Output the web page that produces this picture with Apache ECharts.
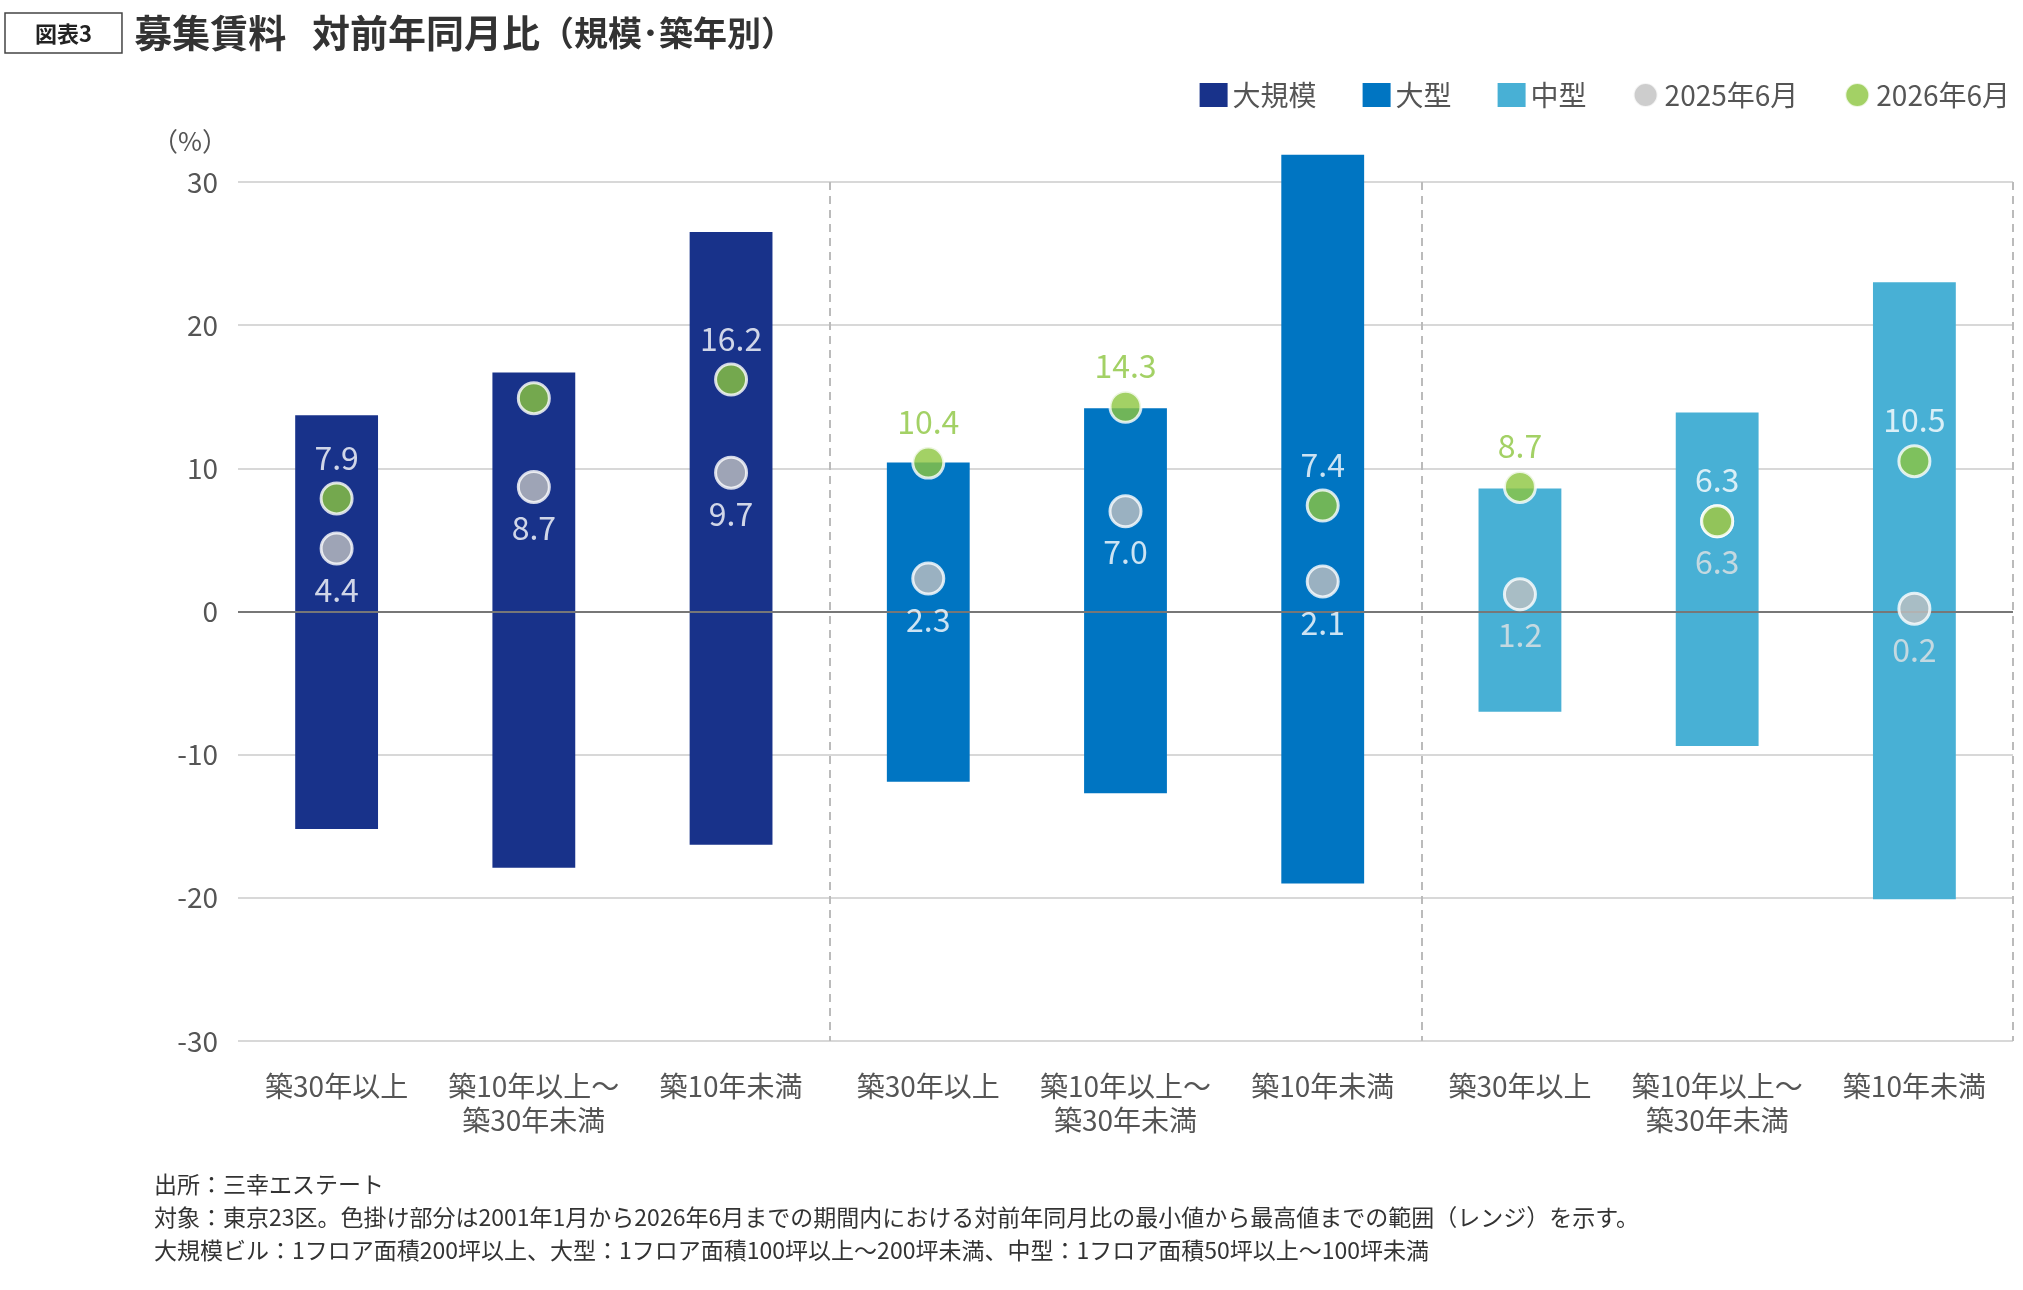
<!DOCTYPE html>
<html><head><meta charset="utf-8">
<script src="https://cdn.jsdelivr.net/npm/echarts@6/dist/echarts.min.js"></script>
<style>html,body{margin:0;padding:0;background:#fff}#c{width:2023px;height:1290px}</style>
</head><body><div id="c"></div>
<script>
const categories = ['築30年以上', '築10年以上～\n築30年未満', '築10年未満', '築30年以上', '築10年以上～\n築30年未満', '築10年未満', '築30年以上', '築10年以上～\n築30年未満', '築10年未満']
const groups = ['大規模', '大型', '中型']
const groupColors = ['#18328a', '#0075c2', '#48b0d5']
const rangeMax = [13.7, 16.7, 26.5, 10.4, 14.2, 31.9, 8.6, 13.9, 23.0]
const rangeMin = [-15.2, -17.9, -16.3, -11.9, -12.7, -19.0, -7.0, -9.4, -20.1]
const v2025 = [4.4, 8.7, 9.7, 2.3, 7.0, 2.1, 1.2, 6.3, 0.2]
const v2026 = [7.9, 14.9, 16.2, 10.4, 14.3, 7.4, 8.7, 6.3, 10.5]
const green = '#8cc63f'
const F = "'Noto Sans CJK JP', 'Noto Sans', sans-serif"

const chart = echarts.init(document.getElementById('c'))

const barSeries = []
groups.forEach((g, gi) => {
  const pick = arr => arr.map((v, i) => (Math.floor(i / 3) === gi ? v : null))
  ;[pick(rangeMax), pick(rangeMin)].forEach(data => {
    barSeries.push({
      name: g, type: 'bar', data, barWidth: '42%', barGap: '-100%', clip: false,
      itemStyle: { color: groupColors[gi] }, silent: true, z: 2,
    })
  })
})

const label2026 = v2026.map((v, i) => ({
  value: v,
  label: { color: v >= rangeMax[i] - 0.5 ? green : '#fff' },
}))
const label2025 = v2025.map((v, i) => ({
  value: v,
  label: { color: i >= 6 ? '#e4e4e4' : '#fff' },
}))

chart.setOption({
  animation: false,
  textStyle: { fontFamily: F },
  title: {
    text: '{b|図表3}   {t|募集賃料   対前年同月比}{s|（規模･築年別）}',
    left: 0, top: 8,
    textStyle: {
      rich: {
        b: { fontSize: 22, color: '#222', borderColor: '#444', borderWidth: 1.5, padding: [10, 30, 8, 30], fontFamily: F },
        t: { fontSize: 38, fontWeight: 'bold', color: '#333', fontFamily: F },
        s: { fontSize: 34, color: '#333', fontFamily: F },
      },
    },
  },
  legend: {
    right: 8, top: 76, itemGap: 46, itemWidth: 28, itemHeight: 24,
    textStyle: { fontSize: 28, color: '#555', fontFamily: F },
    data: [
      { name: '大規模', icon: 'rect' }, { name: '大型', icon: 'rect' }, { name: '中型', icon: 'rect' },
      { name: '2025年6月', icon: 'circle' }, { name: '2026年6月', icon: 'circle' },
    ],
  },
  grid: { left: 238, right: 10, top: 182, bottom: 249 },
  xAxis: {
    type: 'category', data: categories,
    axisLine: { show: false }, axisTick: { show: false },
    axisLabel: { fontSize: 28, color: '#555', margin: 28, lineHeight: 34, interval: 0 },
    splitLine: {
      show: true,
      interval: i => i === 3 || i === 6,
      lineStyle: { color: '#bbb', type: [8, 6], width: 2 },
    },
  },
  yAxis: {
    type: 'value', min: -30, max: 30, interval: 10,
    name: '（%）', nameLocation: 'end', nameGap: 28,
    nameTextStyle: { fontSize: 26, color: '#555', align: 'right', padding: [0, 10, 0, 0] },
    axisLabel: { fontSize: 28, color: '#555', margin: 20 },
    splitLine: { lineStyle: { color: '#d8d8d8', width: 2 } },
    axisLine: { show: false },
  },
  series: [
    ...barSeries,
    {
      type: 'line', silent: true, data: [], z: 3,
      markLine: { symbol: 'none', silent: true, label: { show: false }, lineStyle: { color: '#777', type: 'solid', width: 2 }, data: [{ yAxis: 0 }] },
    },
    {
      name: '2025年6月', type: 'scatter', data: label2025, symbolSize: 31, z: 5,
      itemStyle: { color: '#c0c0c0', borderColor: '#fff', borderWidth: 3 },
      label: { show: true, position: 'bottom', distance: 8, fontSize: 32, formatter: p => p.value.toFixed(1) },
    },
    {
      name: '2026年6月', type: 'scatter', data: label2026, symbolSize: 31, z: 6,
      itemStyle: { color: green, borderColor: '#fff', borderWidth: 3 },
      label: { show: true, position: 'top', distance: 8, fontSize: 32, formatter: p => p.value.toFixed(1) },
    },
  ],
  graphic: [{
    type: 'text', left: 154, top: 1168,
    style: {
      text: '出所：三幸エステート\n対象：東京23区。色掛け部分は2001年1月から2026年6月までの期間内における対前年同月比の最小値から最高値までの範囲（レンジ）を示す。\n大規模ビル：1フロア面積200坪以上、大型：1フロア面積100坪以上～200坪未満、中型：1フロア面積50坪以上～100坪未満',
      fontSize: 23, lineHeight: 33, fill: '#333', fontFamily: F,
    },
  }],
})
</script></body></html>
